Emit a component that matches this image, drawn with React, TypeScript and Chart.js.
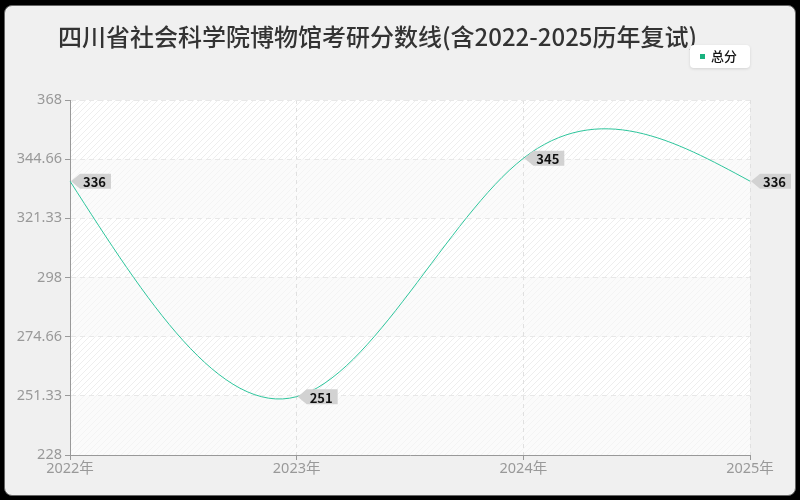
import React, { useEffect, useRef } from 'react';
import { Chart, registerables } from 'chart.js';

Chart.register(...registerables);

const titleText = '四川省社会科学院博物馆考研分数线(含2022-2025历年复试)';
const seriesName = '总分';
const years = ['2022年', '2023年', '2024年', '2025年'];
const scores = [336, 251, 345, 336];
const yTicks = [228, 251.33, 274.66, 298, 321.33, 344.66, 368];

const FONT = '"Noto Sans CJK SC", "Noto Sans", sans-serif';
const TICK_FONT = '"Noto Sans", "Noto Sans CJK SC", sans-serif';
const LINE_COLOR = '#2ec59c';

function makeHatch(ctx: CanvasRenderingContext2D, bg: string, fg: string) {
  const c = document.createElement('canvas');
  c.width = 6;
  c.height = 6;
  const g = c.getContext('2d')!;
  g.fillStyle = bg;
  g.fillRect(0, 0, 6, 6);
  g.strokeStyle = fg;
  g.lineWidth = 1;
  g.beginPath();
  g.moveTo(0, 6);
  g.lineTo(6, 0);
  g.moveTo(-3, 3);
  g.lineTo(3, -3);
  g.moveTo(3, 9);
  g.lineTo(9, 3);
  g.stroke();
  return ctx.createPattern(c, 'repeat')!;
}

// natural cubic spline through the rendered points -> bezier control points
const splinePlugin = {
  id: 'naturalSpline',
  beforeDatasetDraw(chart: any, args: any) {
    const meta = args.meta;
    const line = meta.dataset;
    line.updateControlPoints(chart.chartArea, 'x');
    const pts = meta.data;
    const n = pts.length;
    if (n < 3) return;
    const h: number[] = [];
    for (let i = 0; i < n - 1; i++) h.push(pts[i + 1].x - pts[i].x);
    // second derivatives, natural ends (M0 = Mn = 0)
    const a: number[] = new Array(n).fill(0);
    const b: number[] = new Array(n).fill(1);
    const c: number[] = new Array(n).fill(0);
    const d: number[] = new Array(n).fill(0);
    for (let i = 1; i < n - 1; i++) {
      a[i] = h[i - 1];
      b[i] = 2 * (h[i - 1] + h[i]);
      c[i] = h[i];
      d[i] = 6 * ((pts[i + 1].y - pts[i].y) / h[i] - (pts[i].y - pts[i - 1].y) / h[i - 1]);
    }
    for (let i = 1; i < n; i++) {
      const m = a[i] / b[i - 1];
      b[i] -= m * c[i - 1];
      d[i] -= m * d[i - 1];
    }
    const M: number[] = new Array(n).fill(0);
    M[n - 1] = d[n - 1] / b[n - 1];
    for (let i = n - 2; i >= 0; i--) M[i] = (d[i] - c[i] * M[i + 1]) / b[i];
    const s: number[] = [];
    for (let i = 0; i < n - 1; i++) {
      s.push((pts[i + 1].y - pts[i].y) / h[i] - (h[i] * (2 * M[i] + M[i + 1])) / 6);
    }
    s.push((pts[n - 1].y - pts[n - 2].y) / h[n - 2] + (h[n - 2] * (M[n - 2] + 2 * M[n - 1])) / 6);
    for (let i = 0; i < n; i++) {
      const hl = i > 0 ? h[i - 1] / 3 : 0;
      const hr = i < n - 1 ? h[i] / 3 : 0;
      pts[i].cp1x = pts[i].x - hl;
      pts[i].cp1y = pts[i].y - s[i] * hl;
      pts[i].cp2x = pts[i].x + hr;
      pts[i].cp2y = pts[i].y + s[i] * hr;
    }
  },
};

const bandsPlugin = {
  id: 'bands',
  beforeDraw(chart: any) {
    const { ctx, chartArea: a, scales } = chart;
    const y = scales.y;
    const strong = makeHatch(ctx, '#ffffff', '#eeeeee');
    const weak = makeHatch(ctx, '#fbfbfb', '#f4f4f4');
    ctx.save();
    for (let i = yTicks.length - 1; i > 0; i--) {
      const top = y.getPixelForValue(yTicks[i]);
      const bot = y.getPixelForValue(yTicks[i - 1]);
      ctx.fillStyle = (yTicks.length - 1 - i) % 2 === 0 ? strong : weak;
      ctx.fillRect(a.left, top, a.right - a.left, bot - top);
    }
    ctx.restore();
  },
};

const decorPlugin = {
  id: 'decor',
  afterDraw(chart: any) {
    const { ctx } = chart;
    ctx.save();
    // title
    ctx.fillStyle = '#333333';
    ctx.font = `500 24px ${FONT}`;
    ctx.textBaseline = 'middle';
    ctx.textAlign = 'left';
    ctx.fillText(titleText, 58, 37);

    // legend
    ctx.shadowColor = 'rgba(0,0,0,0.12)';
    ctx.shadowBlur = 3;
    ctx.shadowOffsetY = 1;
    ctx.fillStyle = '#ffffff';
    ctx.beginPath();
    ctx.roundRect(690, 45, 60, 23, 4);
    ctx.fill();
    ctx.shadowColor = 'transparent';
    ctx.fillStyle = '#19b27f';
    ctx.fillRect(700, 54, 5, 5);
    ctx.fillStyle = '#111111';
    ctx.font = `500 13px ${FONT}`;
    ctx.fillText(seriesName, 711, 56);

    // value labels
    const meta = chart.getDatasetMeta(0);
    ctx.font = `bold 13px ${FONT}`;
    meta.data.forEach((pt: any, i: number) => {
      const text = String(scores[i]);
      const w = ctx.measureText(text).width + 8;
      const x0 = pt.x + 10;
      const h = 15;
      const yc = pt.y;
      ctx.fillStyle = '#d2d2d2';
      ctx.beginPath();
      ctx.moveTo(pt.x + 1, yc);
      ctx.lineTo(x0, yc - h / 2);
      ctx.lineTo(x0 + w, yc - h / 2);
      ctx.lineTo(x0 + w, yc + h / 2);
      ctx.lineTo(x0, yc + h / 2);
      ctx.closePath();
      ctx.fill();
      ctx.fillStyle = '#111111';
      ctx.textAlign = 'left';
      ctx.fillText(text, x0 + 3, yc + 1);
    });
    ctx.restore();
  },
};

function ScoreChart() {
  const canvasRef = useRef<HTMLCanvasElement>(null);

  useEffect(() => {
    const chart = new Chart(canvasRef.current!, {
      type: 'line',
      data: {
        labels: years,
        datasets: [
          {
            label: seriesName,
            data: scores,
            borderColor: LINE_COLOR,
            borderWidth: 1,
            pointRadius: 0,
            tension: 0.4,
            fill: false,
          },
        ],
      },
      options: {
        responsive: false,
        animation: false,
        layout: { padding: { top: 100, right: 50, left: 0, bottom: 0 } },
        plugins: {
          legend: { display: false },
          title: { display: false },
          tooltip: { enabled: false },
        },
        scales: {
          x: {
            offset: false,
            afterFit: (s: any) => {
              s.height = 45;
            },
            border: { color: '#999999', width: 1, dash: [4, 4] },
            grid: {
              color: '#e0e0e0',
              tickBorderDash: [],
              tickColor: '#999999',
              tickLength: 5,
            },
            ticks: {
              color: '#999999',
              font: { family: TICK_FONT, size: 14.5 },
              padding: 0,
              maxRotation: 0,
            },
          },
          y: {
            min: 228,
            max: 368,
            afterFit: (s: any) => {
              s.width = 70;
            },
            afterBuildTicks: (s: any) => {
              s.ticks = yTicks.map((v) => ({ value: v }));
            },
            border: { color: '#999999', width: 1, dash: [5, 4] },
            grid: {
              color: '#e8e8e8',
              tickBorderDash: [],
              tickColor: '#999999',
              tickLength: 5,
            },
            ticks: {
              color: '#999999',
              font: { family: TICK_FONT, size: 14.5 },
              padding: 3,
              callback: (v: any) => String(v),
            },
          },
        },
      },
      plugins: [bandsPlugin, splinePlugin, decorPlugin],
    });
    return () => chart.destroy();
  }, []);

  return (
    <canvas
      ref={canvasRef}
      width={800}
      height={500}
      style={{ position: 'absolute', left: 0, top: 0, width: 800, height: 500 }}
    ></canvas>
  );
}

export default function App() {
  useEffect(() => {
    document.body.style.margin = '0';
  }, []);
  return (
    <div style={{ position: 'relative', width: 800, height: 500, background: '#000' }}>
      <div
        style={{
          position: 'absolute',
          left: 4,
          top: 5,
          width: 790,
          height: 489,
          background: '#f0f0f0',
          border: '1px solid #666',
          borderRadius: 8,
        }}
      ></div>
      <ScoreChart />
    </div>
  );
}
